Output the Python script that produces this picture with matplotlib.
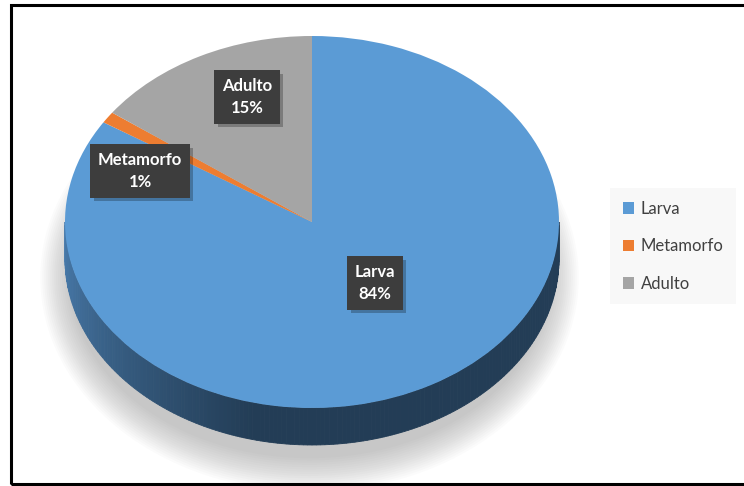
import matplotlib
matplotlib.use("Agg")
import matplotlib.pyplot as plt
import matplotlib.patheffects as pe
from matplotlib.patches import Ellipse, Polygon, Rectangle
import numpy as np

plt.rcParams['font.family'] = ['Lato', 'DejaVu Sans']

categories = ['Larva', 'Metamorfo', 'Adulto']
shares = [84, 1, 15]
colors = ['#5b9bd5', '#ed7d31', '#a5a5a5']

W, H = 744, 486
cx, cy = 312, 222          # pie centre (pixels from top-left)
rx, ry = 247, 186          # ellipse radii of the top face
depth = 37                 # thickness of the 3d rim

fig = plt.figure(figsize=(W / 100, H / 100), dpi=100)
ax = fig.add_axes([0, 0, 1, 1])

xmin, xmax = -cx / rx, (W - cx) / rx
ymin, ymax = -(H - cy) / ry, cy / ry


def px(x, y):
    return xmin + x / rx, ymax - y / ry


# soft drop shadow under the disc
for i in range(16):
    e = Ellipse((-0.01, -0.3), 2 * (1.09 - i * 0.008), 2 * (1.15 - i * 0.012),
                facecolor='#808080', edgecolor='none', alpha=0.03, zorder=0)
    ax.add_patch(e)

# front rim of the disc, shaded from left to right
d = depth / ry
angles = np.linspace(np.pi, 2 * np.pi, 181)
c_light = np.array([0x4a, 0x7d, 0xae]) / 255
c_dark = np.array([0x23, 0x3d, 0x56]) / 255
for a0, a1 in zip(angles[:-1], angles[1:]):
    t = min(1.0, (a0 - np.pi) / (np.pi * 0.42))
    col = c_light * (1 - t) + c_dark * t
    pts = [(np.cos(a0), np.sin(a0)), (np.cos(a1), np.sin(a1)),
           (np.cos(a1), np.sin(a1) - d), (np.cos(a0), np.sin(a0) - d)]
    ax.add_patch(Polygon(pts, closed=True, facecolor=col, edgecolor=col,
                         linewidth=0.6, zorder=1))

wedges, _ = ax.pie(shares, colors=colors, startangle=90, counterclock=False,
                   radius=1, wedgeprops=dict(linewidth=0))
for w in wedges:
    w.set_zorder(2)

ax.set_aspect('auto')
ax.set_xlim(xmin, xmax)
ax.set_ylim(ymin, ymax)
ax.axis('off')

# data labels
label_pos = {'Larva': (375, 283), 'Metamorfo': (140, 171), 'Adulto': (247, 97)}
for name, val in zip(categories, shares):
    x, y = px(*label_pos[name])
    t = ax.text(x, y, f'{name}\n{val}%', ha='center', va='center',
                fontsize=12, fontweight='bold', color='white', linespacing=1.5,
                bbox=dict(boxstyle='square,pad=0.45', facecolor='#3d3d3d',
                          edgecolor='none'), zorder=4)
    t.get_bbox_patch().set_path_effects(
        [pe.SimplePatchShadow(offset=(2.5, -2.5), shadow_rgbFace='black', alpha=0.25),
         pe.Normal()])

leg = fig.legend(wedges, categories, loc='upper left',
                 bbox_to_anchor=(610 / W, 1 - 188 / H),
                 frameon=True, facecolor='#f8f8f8', edgecolor='none',
                 fancybox=False, fontsize=12, labelcolor='#404040',
                 handlelength=0.7, handleheight=0.7, handletextpad=0.4,
                 labelspacing=1.3, borderpad=0.75, borderaxespad=0)
leg.get_frame().set_alpha(1)

# chart border
fig.add_artist(Rectangle((10.5 / W, 2 / H), 760 / W, (H - 7) / H,
                         transform=fig.transFigure, fill=False,
                         edgecolor='black', linewidth=2.2))

fig.savefig('out.png', dpi=100)
